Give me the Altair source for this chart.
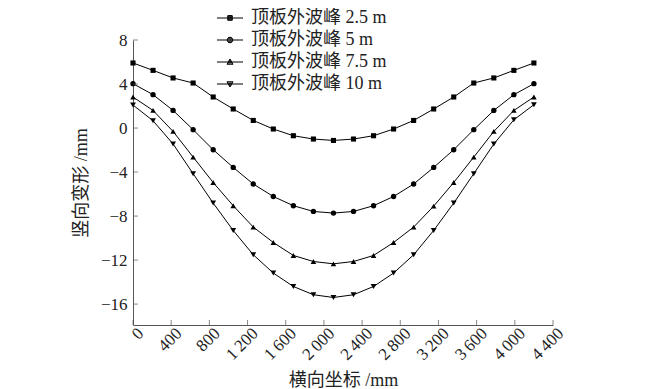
import altair as alt
import pandas as pd

x_mm = [0, 210, 420, 630, 840, 1050, 1260, 1470, 1680, 1890, 2100,
        2310, 2520, 2730, 2940, 3150, 3360, 3570, 3780, 3990, 4200]
s_25 = [5.91, 5.24, 4.55, 4.09, 2.82, 1.73, 0.69, -0.09, -0.70, -1.00, -1.13,
        -1.00, -0.70, -0.09, 0.69, 1.73, 2.82, 4.09, 4.55, 5.24, 5.91]
s_5 = [4.03, 3.03, 1.60, -0.15, -1.97, -3.58, -5.09, -6.22, -7.06, -7.58, -7.73,
       -7.58, -7.06, -6.22, -5.09, -3.58, -1.97, -0.15, 1.60, 3.03, 4.03]
s_75 = [2.82, 1.60, -0.31, -2.64, -4.95, -7.06, -9.00, -10.40, -11.58, -12.13, -12.34,
        -12.13, -11.58, -10.40, -9.00, -7.10, -4.95, -2.64, -0.31, 1.60, 2.82]
s_10 = [2.09, 0.66, -1.45, -4.15, -6.82, -9.31, -11.52, -13.18, -14.40, -15.15, -15.40,
        -15.15, -14.40, -13.18, -11.52, -9.31, -6.82, -4.15, -1.45, 0.75, 2.12]

series_names = ["顶板外波峰 2.5 m", "顶板外波峰 5 m", "顶板外波峰 7.5 m", "顶板外波峰 10 m"]
series_vals = [s_25, s_5, s_75, s_10]
marker_shapes = ["square", "circle", "triangle-up", "triangle-down"]
marker_sizes = [26, 34, 34, 34]

# legend glyphs: a short line through a (hatch-filled) marker, stroke only
LINE = "M-5.2,0H5.2"
legend_paths = [
    LINE + "M-0.9,-0.9H0.9M-0.9,-0.5H0.9M-0.9,-0.1H0.9M-0.9,0.3H0.9M-0.9,0.7H0.9"
           "M-0.9,-0.9V0.9H0.9V-0.9Z",
    LINE + "M-0.75,-0.8H0.75M-1.02,-0.4H1.02M-1.02,0.4H1.02M-0.75,0.8H0.75"
           "M-1.1,0A1.1,1.1,0,1,1,1.1,0A1.1,1.1,0,1,1,-1.1,0Z",
    LINE + "M-0.23,-0.8H0.23M-0.46,-0.4H0.46M-0.69,0H0.69M-0.91,0.4H0.91"
           "M0,-1.2L1.2,0.9L-1.2,0.9Z",
    LINE + "M-0.23,0.8H0.23M-0.46,0.4H0.46M-0.69,0H0.69M-0.91,-0.4H0.91"
           "M0,1.2L1.2,-0.9L-1.2,-0.9Z",
]

x_ticks = [0, 400, 800, 1200, 1600, 2000, 2400, 2800, 3200, 3600, 4000, 4400]
x_tick_labels = ["0", "400", "800", "1\u2009200", "1\u2009600", "2\u2009000", "2\u2009400",
                 "2\u2009800", "3\u2009200", "3\u2009600", "4\u2009000", "4\u2009400"]
y_ticks = [-16, -12, -8, -4, 0, 4, 8]

rows = []
for name, vals in zip(series_names, series_vals):
    for xv, yv in zip(x_mm, vals):
        rows.append({"x": xv, "y": yv, "series": name})
df = pd.DataFrame(rows)

FONT = "Liberation Serif, Noto Sans CJK SC"
AX = "#555555"
TXT = "#222222"
W, H = 420, 285

xs = alt.Scale(domain=[0, 4400], nice=False)
ys = alt.Scale(domain=[-17.9, 8], nice=False)

x_enc = alt.X("x:Q", scale=xs, axis=alt.Axis(
    values=x_ticks, ticks=False, labels=False, title="横向坐标 /mm",
    grid=False, titlePadding=46))
y_enc = alt.Y("y:Q", scale=ys, axis=alt.Axis(
    values=y_ticks, ticks=False, title="竖向变形 /mm", grid=False,
    labelExpr="replace(datum.label, '-', '−')", labelPadding=6, titlePadding=10))

base = alt.Chart(df)
lines = base.mark_line(color="black", strokeWidth=1).encode(
    x=x_enc, y=y_enc, detail="series:N")
points = base.mark_point(filled=True, color="black", opacity=1).encode(
    x="x:Q", y="y:Q",
    shape=alt.Shape("series:N", scale=alt.Scale(domain=series_names, range=marker_shapes),
                    legend=None),
    size=alt.Size("series:N", scale=alt.Scale(domain=series_names, range=marker_sizes),
                  legend=None))

legend_layer = base.mark_point(filled=False, color="black", strokeWidth=1,
                               opacity=1).encode(
    x="x:Q", y="y:Q",
    shape=alt.Shape("series:N", scale=alt.Scale(domain=series_names, range=legend_paths),
                    legend=alt.Legend(title=None, orient="none", legendX=88, legendY=-31,
                                      padding=0, labelOffset=12, rowPadding=4,
                                      symbolSize=25, symbolStrokeWidth=1, symbolOpacity=1,
                                      labelFont=FONT, labelFontSize=18, labelColor=TXT,
                                      labelLimit=300))
).transform_filter("false")

xt = alt.Chart(pd.DataFrame({"x": x_ticks})).mark_tick(
    color=AX, thickness=1, size=5).encode(x="x:Q", y=alt.value(H - 2.5))
yt = alt.Chart(pd.DataFrame({"y": y_ticks})).mark_tick(
    color=AX, thickness=1, size=5).encode(y="y:Q", x=alt.value(2.5))

xlab = alt.Chart(pd.DataFrame({"x": x_ticks, "lab": x_tick_labels})).mark_text(
    angle=315, align="right", baseline="middle", font=FONT, fontSize=17, color=TXT).encode(
    x="x:Q", y=alt.value(H + 6), text="lab:N",
    xOffset=alt.value(8))

chart = alt.layer(lines, points, legend_layer, xt, yt, xlab).resolve_scale(
    shape="independent", size="independent"
).properties(
    width=W, height=H,
    autosize=alt.AutoSizeParams(type="none"),
    padding={"left": 125, "top": 32, "right": 109, "bottom": 65},
).configure_view(stroke=None).configure_axis(
    domainColor=AX, labelFont=FONT, titleFont=FONT, labelFontSize=17,
    titleFontSize=18, titleFontWeight="normal", labelColor=TXT, titleColor=TXT,
)

chart.save("out.html", embed_options={"renderer": "svg", "actions": False})
